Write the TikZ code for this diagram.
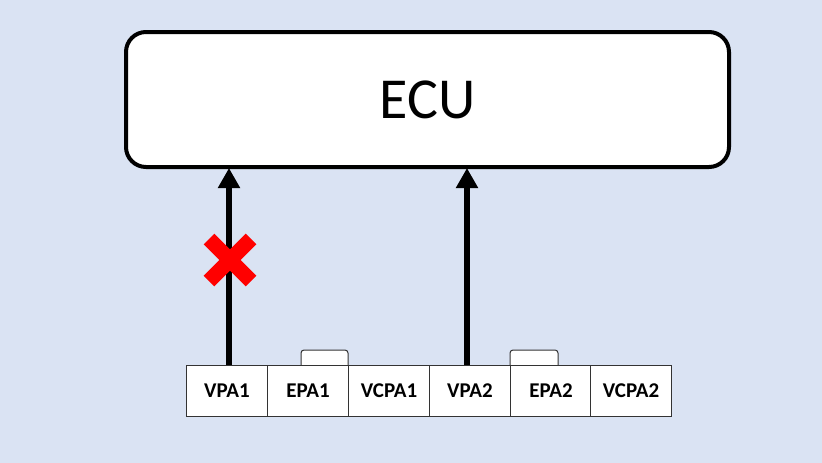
\documentclass[tikz,border=0pt]{standalone}
\usepackage{fontspec}
\setmainfont{Carlito}
\usetikzlibrary{arrows.meta,calc}
\definecolor{bg}{HTML}{DAE3F3}
\begin{document}
\begin{tikzpicture}[x=1pt,y=-1pt,
  cell/.style={draw=black!80,line width=1pt,fill=white,minimum width=81pt,minimum height=51pt,inner sep=0pt,font=\fontsize{21}{24}\selectfont\bfseries,anchor=north west},
  tab/.style={draw=black!80,line width=1pt,fill=white,rounded corners=3pt},
  link/.style={line width=6pt,-{Triangle[length=20pt,width=21pt]},shorten >=-1pt},
  cross/.style={red,line width=15pt}]
\fill[bg] (0,0) rectangle (822,463);
\useasboundingbox (0,0) rectangle (822,463);
\node[draw,line width=4pt,rounded corners=20pt,fill=white,minimum width=603pt,minimum height=135pt,inner sep=0pt,font=\fontsize{58}{68}\selectfont] (ecu) at (427.5,99.5) {ECU};
% tabs
\draw[tab] (301,366) -- (301,350) -- (348,350) -- (348,366);
\draw[tab] (510,366) -- (510,350) -- (558,350) -- (558,366);
\node[cell] (vpa1) at (186,365) {VPA1};
\node[cell] (epa1) at (267,365) {EPA1};
\node[cell] (vcpa1) at (348,365) {VCPA1};
\node[cell] (vpa2) at (429,365) {VPA2};
\node[cell] (epa2) at (510,365) {EPA2};
\node[cell] (vcpa2) at (590,365) {VCPA2};
\coordinate (s1) at (229,365);
\coordinate (s2) at (467,365);
\draw[link] (s1) -- (s1 |- ecu.south);
\draw[link] (s2) -- (s2 |- ecu.south);
\coordinate (xc) at (230,260);
\draw[cross] ($(xc)+(-21,-21)$) -- ($(xc)+(21,21)$);
\draw[cross] ($(xc)+(-21,21)$) -- ($(xc)+(21,-21)$);
\end{tikzpicture}
\end{document}
